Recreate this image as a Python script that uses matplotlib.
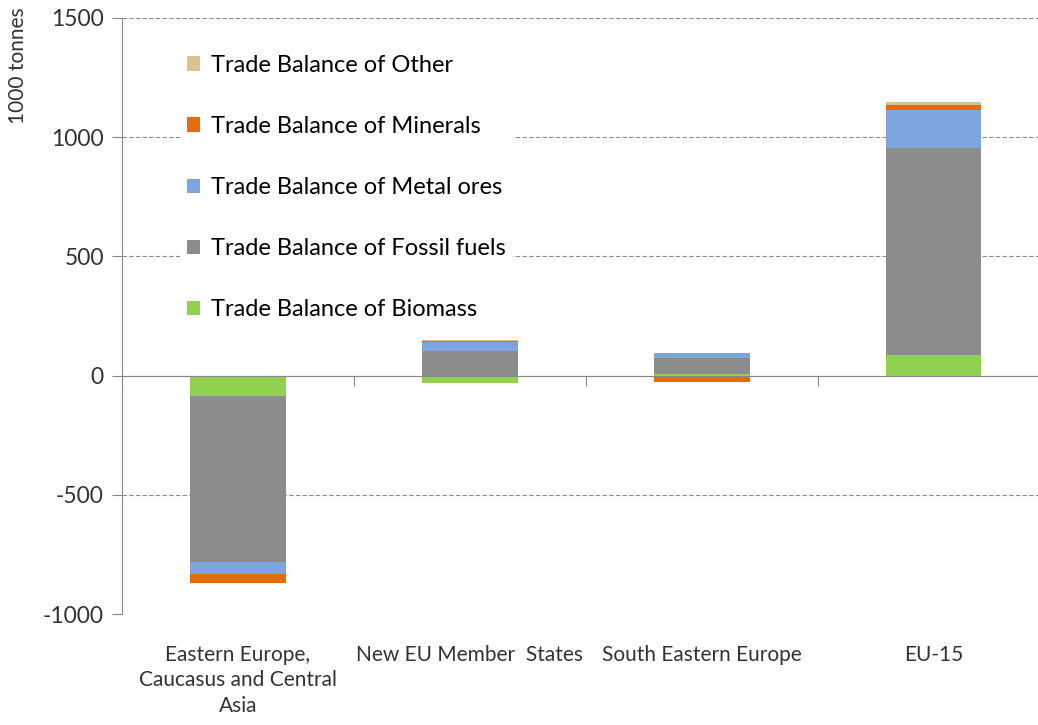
import matplotlib.pyplot as plt
import numpy as np

plt.rcParams["font.family"] = ["Lato", "DejaVu Sans"]
plt.rcParams["axes.unicode_minus"] = False

regions = ["Eastern Europe,\nCaucasus and Central\nAsia", "New EU Member  States",
           "South Eastern Europe", "EU-15"]
series = ["Trade Balance of Biomass", "Trade Balance of Fossil fuels",
          "Trade Balance of Metal ores", "Trade Balance of Minerals",
          "Trade Balance of Other"]
biomass = [-84, -29, 8, 88]
fossil = [-696, 105, 64, 867]
metal_ores = [-54, 34, 22, 160]
minerals = [-34, 6, -27, 21]
other = [-3, 3, 1, 13]
colors = ["#92d050", "#8c8c8c", "#7ba5dc", "#e46c0a", "#d9c48f"]
yticks = [-1000, -500, 0, 500, 1000, 1500]

fig = plt.figure(figsize=(10.38, 7.25), dpi=100)
ax = fig.add_axes([0.1175, 0.1531, 0.894, 0.8221])

x = np.arange(len(regions))
pos_base = np.zeros(len(regions))
neg_base = np.zeros(len(regions))
handles = []
for name, vals, col in zip(series, [biomass, fossil, metal_ores, minerals, other], colors):
    vals = np.array(vals, dtype=float)
    base = np.where(vals >= 0, pos_base, neg_base)
    h = ax.bar(x, vals, 0.41, bottom=base, color=col, label=name, zorder=3)
    handles.append(h)
    pos_base += np.clip(vals, 0, None)
    neg_base += np.clip(vals, None, 0)

ax.set_xlim(-0.5, len(regions) - 0.5)
ax.set_ylim(-1000, 1500)
ax.set_yticks(yticks)
ax.tick_params(axis="y", direction="out", length=7, color="#888888",
               labelsize=16.5, labelcolor="#333333", pad=6)
ax.yaxis.grid(True, color="#8a8a8a", linestyle=(0, (4, 2)), linewidth=0.8, zorder=0)

for side in ["top", "right"]:
    ax.spines[side].set_visible(False)
ax.spines["left"].set_color("#888888")
ax.spines["bottom"].set_color("#888888")
ax.spines["bottom"].set_position(("data", 0))
ax.spines["bottom"].set_zorder(4)

# tick marks on the zero line at category boundaries
ax.set_xticks(np.arange(len(regions) + 1) - 0.5)
ax.set_xticklabels([])
ax.tick_params(axis="x", direction="out", length=7, color="#888888")

# category names along the bottom edge
cat = ax.secondary_xaxis("bottom")
for sp in cat.spines.values():
    sp.set_visible(False)
cat.set_xticks(x)
cat.set_xticklabels(regions, fontsize=15, color="#333333", linespacing=1.35)
cat.tick_params(axis="x", length=0, pad=22)

fig.text(0.017, 0.99, "1000 tonnes", rotation=90, ha="center", va="top",
         fontsize=15, color="#333333")

leg = ax.legend(handles[::-1], series[::-1], loc="upper left",
                bbox_to_anchor=(0.05, 0.97), fontsize=17, frameon=True,
                facecolor="white", edgecolor="none", framealpha=1,
                handlelength=0.55, handleheight=0.55, handletextpad=0.45,
                labelspacing=1.7, borderpad=0.3)
leg.set_zorder(5)

fig.savefig("out.png", dpi=100)
